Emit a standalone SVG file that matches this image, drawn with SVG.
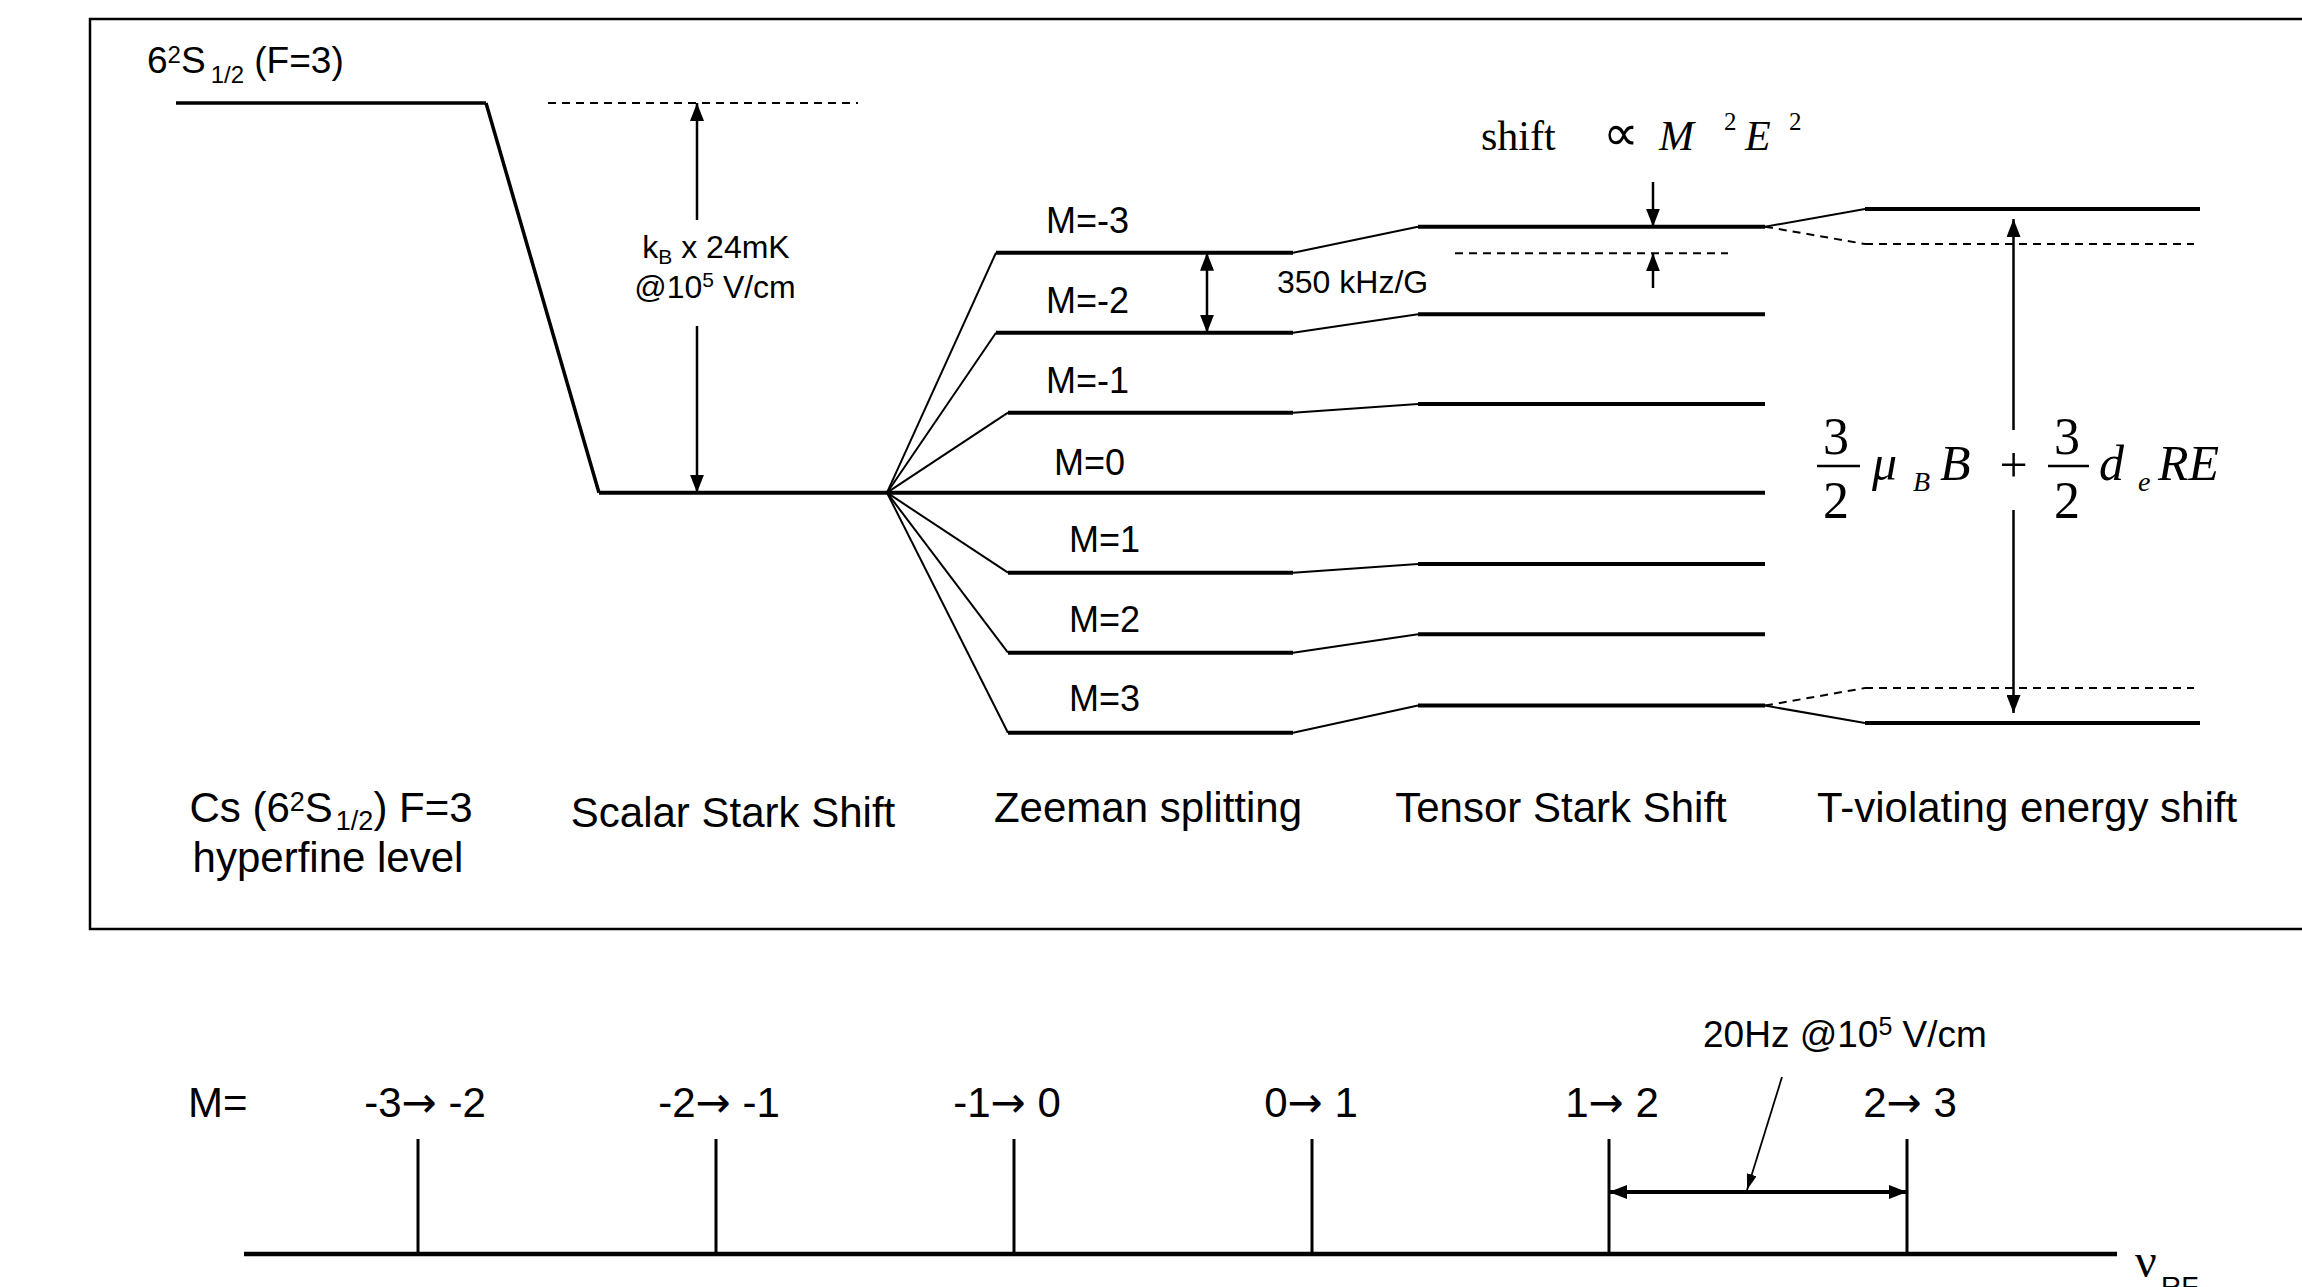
<svg xmlns="http://www.w3.org/2000/svg" width="2302" height="1287" viewBox="0 0 2302 1287">
<style>
.sans{font-family:"Liberation Sans",Arial,sans-serif;fill:#000}
.serif{font-family:"Liberation Serif","Times New Roman",serif;fill:#000}
.arw{font-family:"DejaVu Sans",sans-serif}
.lvl{stroke:#000;stroke-width:4;fill:none}
.thin{stroke:#000;stroke-width:2;fill:none}
.dash{stroke:#000;stroke-width:2;fill:none;stroke-dasharray:8 6}
.arr{stroke:#000;stroke-width:2.5;fill:none}
</style>
<defs>
<marker id="ah" markerUnits="userSpaceOnUse" markerWidth="18" markerHeight="14" refX="18" refY="7" orient="auto-start-reverse">
<path d="M0,0 L18,7 L0,14 z" fill="#000"/>
</marker>
<marker id="ahs" markerUnits="userSpaceOnUse" markerWidth="16" markerHeight="10" refX="16" refY="5" orient="auto">
<path d="M0,0 L16,5 L0,10 z" fill="#000"/>
</marker>
</defs>
<rect width="2302" height="1287" fill="#fff"/>
<rect id="frame" x="90" y="19" width="2300" height="910" fill="none" stroke="#000" stroke-width="2.5"/>

<g id="connectors">
<polyline class="lvl" points="486,103 599,492.7" style="stroke-width:3.5"/>
<line class="thin" x1="887" y1="492.7" x2="996" y2="252.7"/>
<line class="thin" x1="887" y1="492.7" x2="996" y2="332.7"/>
<line class="thin" x1="887" y1="492.7" x2="1008" y2="412.7"/>
<line class="thin" x1="887" y1="492.7" x2="1008" y2="572.7"/>
<line class="thin" x1="887" y1="492.7" x2="1008" y2="652.7"/>
<line class="thin" x1="887" y1="492.7" x2="1008" y2="732.7"/>
<line class="thin" x1="1293" y1="252.7" x2="1418" y2="226.7"/>
<line class="thin" x1="1293" y1="332.7" x2="1418" y2="314.3"/>
<line class="thin" x1="1293" y1="412.7" x2="1418" y2="404"/>
<line class="thin" x1="1293" y1="572.7" x2="1418" y2="564"/>
<line class="thin" x1="1293" y1="652.7" x2="1418" y2="634.3"/>
<line class="thin" x1="1293" y1="732.7" x2="1418" y2="705.6"/>
<line class="thin" x1="1765" y1="226.7" x2="1865" y2="209"/>
<line class="dash" x1="1765" y1="226.7" x2="1865" y2="244"/>
<line class="thin" x1="1765" y1="705.6" x2="1865" y2="723"/>
<line class="dash" x1="1765" y1="705.6" x2="1865" y2="688"/>
</g>

<g id="hyperfine-level">
<line class="lvl" x1="176" y1="103" x2="486" y2="103" style="stroke-width:3.5"/>
<text class="sans" x="147" y="73" font-size="37">6<tspan font-size="24" dy="-10">2</tspan><tspan font-size="37" dy="10">S</tspan><tspan font-size="24" dx="5" dy="10">1/2</tspan><tspan font-size="37" dy="-10"> (F=3)</tspan></text>
<text class="sans" x="331" y="822" font-size="42" text-anchor="middle">Cs (6<tspan font-size="27" dy="-11">2</tspan><tspan font-size="42" dy="11">S</tspan><tspan font-size="27" dx="3" dy="8">1/2</tspan><tspan font-size="42" dy="-8">) F=3</tspan></text>
<text class="sans" x="328" y="872" font-size="42" text-anchor="middle">hyperfine level</text>
</g>

<g id="scalar-stark">
<line class="lvl" x1="599" y1="492.7" x2="1765" y2="492.7"/>
<line class="dash" x1="548" y1="103" x2="858" y2="103"/>
<line class="arr" x1="697" y1="220" x2="697" y2="103" marker-end="url(#ah)"/>
<line class="arr" x1="697" y1="326" x2="697" y2="492.7" marker-end="url(#ah)"/>
<text class="sans" x="716" y="258" font-size="32" text-anchor="middle">k<tspan font-size="21" dy="6">B</tspan><tspan font-size="32" dy="-6"> x 24mK</tspan></text>
<text class="sans" x="715" y="298" font-size="32" text-anchor="middle">@10<tspan font-size="21" dy="-11">5</tspan><tspan font-size="32" dy="11"> V/cm</tspan></text>
<text class="sans" x="733" y="827" font-size="42" text-anchor="middle">Scalar Stark Shift</text>
</g>

<g id="zeeman">
<line class="lvl" x1="996" y1="252.7" x2="1293" y2="252.7"/>
<line class="lvl" x1="996" y1="332.7" x2="1293" y2="332.7"/>
<line class="lvl" x1="1008" y1="412.7" x2="1293" y2="412.7"/>
<line class="lvl" x1="1008" y1="572.7" x2="1293" y2="572.7"/>
<line class="lvl" x1="1008" y1="652.7" x2="1293" y2="652.7"/>
<line class="lvl" x1="1008" y1="732.7" x2="1293" y2="732.7"/>
<text class="sans" x="1046" y="233" font-size="36">M=-3</text>
<text class="sans" x="1046" y="313" font-size="36">M=-2</text>
<text class="sans" x="1046" y="393" font-size="36">M=-1</text>
<text class="sans" x="1054" y="475" font-size="36">M=0</text>
<text class="sans" x="1069" y="552" font-size="36">M=1</text>
<text class="sans" x="1069" y="632" font-size="36">M=2</text>
<text class="sans" x="1069" y="711" font-size="36">M=3</text>
<line class="arr" x1="1207" y1="275" x2="1207" y2="252.7" marker-end="url(#ah)"/>
<line class="arr" x1="1207" y1="275" x2="1207" y2="332.7" marker-end="url(#ah)"/>
<text class="sans" x="1277" y="293" font-size="32">350 kHz/G</text>
<text class="sans" x="1148" y="822" font-size="42" text-anchor="middle">Zeeman splitting</text>
</g>

<g id="tensor-stark">
<line class="lvl" x1="1418" y1="226.7" x2="1765" y2="226.7"/>
<line class="lvl" x1="1418" y1="314.3" x2="1765" y2="314.3"/>
<line class="lvl" x1="1418" y1="404" x2="1765" y2="404"/>
<line class="lvl" x1="1418" y1="564" x2="1765" y2="564"/>
<line class="lvl" x1="1418" y1="634.3" x2="1765" y2="634.3"/>
<line class="lvl" x1="1418" y1="705.6" x2="1765" y2="705.6"/>
<line class="dash" x1="1455" y1="253.3" x2="1728" y2="253.3"/>
<line class="arr" x1="1653" y1="182" x2="1653" y2="226.7" marker-end="url(#ah)"/>
<line class="arr" x1="1653" y1="288" x2="1653" y2="253.3" marker-end="url(#ah)"/>
<text class="serif" x="1481" y="150" font-size="42">shift</text>
<text class="serif" x="1603" y="150" font-size="50">∝</text>
<text class="serif" x="1659" y="150" font-size="42" font-style="italic">M</text>
<text class="serif" x="1724" y="130" font-size="25">2</text>
<text class="serif" x="1745" y="150" font-size="42" font-style="italic">E</text>
<text class="serif" x="1789" y="130" font-size="25">2</text>
<text class="sans" x="1561" y="822" font-size="42" text-anchor="middle">Tensor Stark Shift</text>
</g>

<g id="t-violating">
<line class="lvl" x1="1865" y1="209" x2="2200" y2="209"/>
<line class="lvl" x1="1865" y1="723" x2="2200" y2="723"/>
<line class="dash" x1="1865" y1="244" x2="2194" y2="244"/>
<line class="dash" x1="1865" y1="688" x2="2194" y2="688"/>
<line class="arr" x1="2013.5" y1="430" x2="2013.5" y2="219" marker-end="url(#ah)"/>
<line class="arr" x1="2013.5" y1="510" x2="2013.5" y2="713" marker-end="url(#ah)"/>
<text class="serif" x="1836" y="454" font-size="52" text-anchor="middle">3</text>
<line x1="1817" y1="466" x2="1860" y2="466" stroke="#000" stroke-width="2.5"/>
<text class="serif" x="1836" y="518" font-size="52" text-anchor="middle">2</text>
<text class="serif" x="1872" y="480" font-size="50" font-style="italic">μ</text>
<text class="serif" x="1913" y="491" font-size="28" font-style="italic">B</text>
<text class="serif" x="1940" y="480" font-size="50" font-style="italic">B</text>
<text class="serif" x="2013.5" y="482" font-size="50" text-anchor="middle">+</text>
<text class="serif" x="2067" y="454" font-size="52" text-anchor="middle">3</text>
<line x1="2048" y1="466" x2="2089" y2="466" stroke="#000" stroke-width="2.5"/>
<text class="serif" x="2067" y="518" font-size="52" text-anchor="middle">2</text>
<text class="serif" x="2099" y="480" font-size="50" font-style="italic">d</text>
<text class="serif" x="2138" y="491" font-size="28" font-style="italic">e</text>
<text class="serif" x="2158" y="480" font-size="50" font-style="italic">RE</text>
<text class="sans" x="2027" y="822" font-size="42" text-anchor="middle">T-violating energy shift</text>
</g>

<g id="spectrum">
<line x1="244" y1="1254" x2="2117" y2="1254" stroke="#000" stroke-width="4.5"/>
<g stroke="#000" stroke-width="3">
<line x1="418" y1="1139" x2="418" y2="1254"/>
<line x1="716" y1="1139" x2="716" y2="1254"/>
<line x1="1014" y1="1139" x2="1014" y2="1254"/>
<line x1="1312" y1="1139" x2="1312" y2="1254"/>
<line x1="1609" y1="1139" x2="1609" y2="1254"/>
<line x1="1907" y1="1139" x2="1907" y2="1254"/>
</g>
<text class="sans" x="188" y="1117" font-size="42">M=</text>
<text class="sans" x="425" y="1117" font-size="42" text-anchor="middle">-3<tspan class="arw">→</tspan> -2</text>
<text class="sans" x="719" y="1117" font-size="42" text-anchor="middle">-2<tspan class="arw">→</tspan> -1</text>
<text class="sans" x="1007" y="1117" font-size="42" text-anchor="middle">-1<tspan class="arw">→</tspan> 0</text>
<text class="sans" x="1311" y="1117" font-size="42" text-anchor="middle">0<tspan class="arw">→</tspan> 1</text>
<text class="sans" x="1612" y="1117" font-size="42" text-anchor="middle">1<tspan class="arw">→</tspan> 2</text>
<text class="sans" x="1910" y="1117" font-size="42" text-anchor="middle">2<tspan class="arw">→</tspan> 3</text>
<line x1="1609" y1="1192" x2="1907" y2="1192" stroke="#000" stroke-width="4" marker-start="url(#ah)" marker-end="url(#ah)"/>
<line x1="1782" y1="1077" x2="1747" y2="1190" stroke="#000" stroke-width="1.8" marker-end="url(#ahs)"/>
<text class="sans" x="1703" y="1047" font-size="37">20Hz @10<tspan font-size="25" dy="-12">5</tspan><tspan font-size="37" dy="12"> V/cm</tspan></text>
<text class="serif" x="2135" y="1277" font-size="48">ν</text>
<text class="sans" x="2161" y="1296" font-size="28">RF</text>
</g>
</svg>
